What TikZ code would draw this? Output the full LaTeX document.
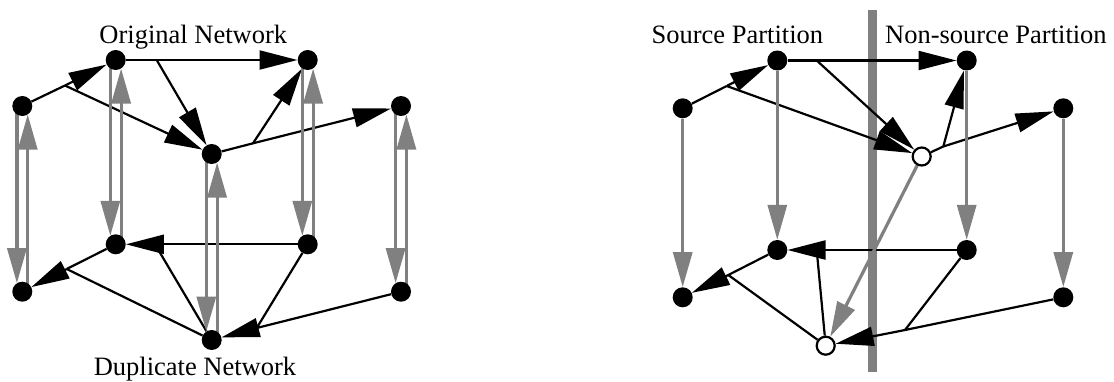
\documentclass[tikz,border=0pt]{standalone}
\usepackage{fontspec}
\setmainfont{Liberation Serif}
\usetikzlibrary{arrows.meta}
\pgfdeclarelayer{wires}
\pgfsetlayers{wires,main}
\definecolor{dupgray}{HTML}{808080}
\newcommand\lblfont{\fontsize{26.5pt}{30pt}\selectfont}
\tikzset{
  dot/.style={circle, fill=black, minimum size=20pt, inner sep=0pt},
  hollow/.style={circle, draw=black, fill=white, line width=2.2pt, minimum size=18pt, inner sep=0pt},
  net/.style={line width=2.2pt, black},
  netarrow/.style={net, -{Triangle[length=38pt, width=19pt]}},
  dup/.style={line width=3.2pt, dupgray, -{Triangle[length=35pt, width=19pt]}},
  duppair/.style={dup, shorten >=8.5pt},
  cut/.style={fill=dupgray},
  lbl/.style={font=\lblfont, inner sep=0pt}
}
\begin{document}
\begin{tikzpicture}[x=1pt, y=-1pt]
\useasboundingbox (0,0) rectangle (1114,381);

% ---------- left: original network (top) and its duplicate (bottom)
\node[dot] (A)  at (22.3,106)   {};
\node[dot] (B)  at (115.7,60)   {};
\node[dot] (C)  at (307.7,60)   {};
\node[dot] (D)  at (211.7,154)  {};
\node[dot] (E)  at (401,106)    {};
\node[dot] (A2) at (22.3,291.7) {};
\node[dot] (B2) at (115.7,244.3){};
\node[dot] (C2) at (307.7,244.3){};
\node[dot] (D2) at (211.7,340)  {};
\node[dot] (E2) at (401,291.7)  {};

% branch points of the multi-terminal nets
\coordinate (J1) at (65,85.5);
\coordinate (J2) at (156.7,60);
\coordinate (J3) at (253,143.3);
\coordinate (K1) at (66.7,269);
\coordinate (K2) at (155,244.3);
\coordinate (K3) at (256.7,328);

\node[lbl, anchor=base] (orig) at (193.3,43.3) {Original Network};
\node[lbl, anchor=base] (dupl) at (195,375) {Duplicate Network};

% ---------- right: partitioned network
\node[dot]    (RA)  at (682.7,108.3) {};
\node[dot]    (RB)  at (777.3,60.5)  {};
\node[dot]    (RC)  at (966.7,60.5)  {};
\node[hollow] (RD)  at (921.7,156.5) {};
\node[dot]    (RE)  at (1063.3,108.3){};
\node[dot]    (RA2) at (682.7,297.3) {};
\node[dot]    (RB2) at (777.3,250)   {};
\node[dot]    (RC2) at (966.7,250)   {};
\node[hollow] (RD2) at (825.7,345.7) {};
\node[dot]    (RE2) at (1063.3,297.3){};

\coordinate (RJ1) at (726.7,86);
\coordinate (RJ2) at (816.7,60.5);
\coordinate (RJ3) at (943.3,146.5);
\coordinate (RK1) at (728.3,275);
\coordinate (RK2) at (816.7,250);
\coordinate (RK3) at (905,330);

\node[lbl, anchor=base east] (src)  at (823.3,43.3) {Source Partition};
\node[lbl, anchor=base west] (nsrc) at (885,43.3)   {Non-source Partition};

\begin{pgfonlayer}{wires}
  % partition cut
  \path[cut] (868.3,10) rectangle (876.7,371.7);

  % original network nets
  \draw[net] (A) -- (J1);
  \draw[netarrow] (J1) -- (B);
  \draw[netarrow] (J1) -- (D);
  \draw[net] (B) -- (J2);
  \draw[netarrow] (J2) -- (C);
  \draw[netarrow] (J2) -- (D);
  \draw[net] (D) -- (J3);
  \draw[netarrow] (J3) -- (E);
  \draw[netarrow] (J3) -- (C);

  % duplicate network nets (reversed)
  \draw[net] (B2) -- (K1);
  \draw[net] (D2) -- (K1);
  \draw[netarrow] (K1) -- (A2);
  \draw[netarrow] (C2) -- (B2);
  \draw[net] (D2) -- (K2);
  \draw[net] (C2) -- (K3);
  \draw[net] (E2) -- (K3);
  \draw[netarrow] (K3) -- (D2);

  % links between each node and its duplicate
  \draw[duppair] ([xshift=-5.4pt]A.center) -- ([xshift=-5.4pt]A2.center);
  \draw[duppair] ([xshift=5.4pt]A2.center) -- ([xshift=5.4pt]A.center);
  \draw[duppair] ([xshift=-5.4pt]B.center) -- ([xshift=-5.4pt]B2.center);
  \draw[duppair] ([xshift=5.4pt]B2.center) -- ([xshift=5.4pt]B.center);
  \draw[duppair] ([xshift=-5.4pt]C.center) -- ([xshift=-5.4pt]C2.center);
  \draw[duppair] ([xshift=5.4pt]C2.center) -- ([xshift=5.4pt]C.center);
  \draw[duppair] ([xshift=-5.4pt]D.center) -- ([xshift=-5.4pt]D2.center);
  \draw[duppair] ([xshift=5.4pt]D2.center) -- ([xshift=5.4pt]D.center);
  \draw[duppair] ([xshift=-5.4pt]E.center) -- ([xshift=-5.4pt]E2.center);
  \draw[duppair] ([xshift=5.4pt]E2.center) -- ([xshift=5.4pt]E.center);

  % partitioned network: upper nets
  \draw[net] (RA) -- (RJ1);
  \draw[netarrow] (RJ1) -- (RB);
  \draw[netarrow] (RJ1) -- (RD);
  \draw[net] (RB) -- (RJ2);
  \draw[netarrow] (RJ2) -- (RC);
  \draw[netarrow] (RJ2) -- (RD);
  \draw[net] (RD) -- (RJ3);
  \draw[netarrow] (RJ3) -- (RE);
  \draw[netarrow] (RJ3) -- (RC);

  % partitioned network: lower nets
  \draw[net] (RB2) -- (RK1);
  \draw[net] (RD2) -- (RK1);
  \draw[netarrow] (RK1) -- (RA2);
  \draw[netarrow] (RC2) -- (RB2);
  \draw[net] (RD2) -- (RK2);
  \draw[net] (RC2) -- (RK3);
  \draw[net] (RE2) -- (RK3);
  \draw[netarrow] (RK3) -- (RD2);

  % one-way links to the duplicates
  \draw[dup] (RA) -- (RA2);
  \draw[dup] (RB) -- (RB2);
  \draw[dup] (RC) -- (RC2);
  \draw[dup] (RE) -- (RE2);
  \draw[dup] (RD) -- (RD2);
\end{pgfonlayer}
\end{tikzpicture}
\end{document}
